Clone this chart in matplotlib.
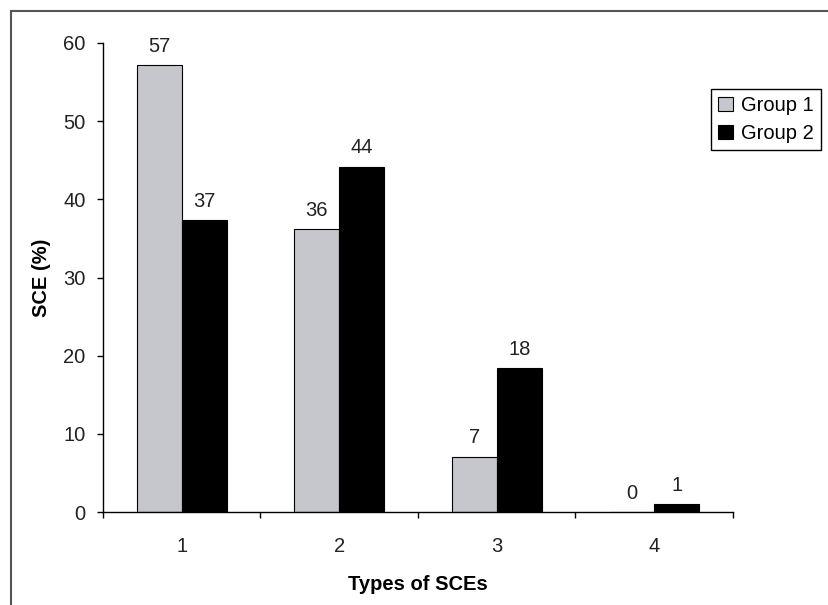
import matplotlib.pyplot as plt
from matplotlib.lines import Line2D
import numpy as np

plt.rcParams['font.family'] = ['Liberation Sans', 'DejaVu Sans']
plt.rcParams['font.size'] = 14.5

# data
types = ['1', '2', '3', '4']
group1 = [57.2, 36.2, 7.1, 0.0]
group2 = [37.3, 44.2, 18.4, 1.0]
series_names = ['Group 1', 'Group 2']

fig = plt.figure(figsize=(8.29, 6.05), dpi=100)
fig.patch.set_facecolor('white')
ax = fig.add_axes([103 / 829, 1 - 512 / 605, 630 / 829, 469 / 605])

x = np.arange(1, len(types) + 1)
w = 45 / 157.5
b1 = ax.bar(x - w / 2, group1, w, color='#c5c7cc', edgecolor='black', linewidth=0.8, label=series_names[0])
b2 = ax.bar(x + w / 2, group2, w, color='black', edgecolor='black', linewidth=0.8, label=series_names[1])

for bars, vals in ((b1, group1), (b2, group2)):
    for r, v in zip(bars, vals):
        ax.annotate('%d' % round(v), (r.get_x() + r.get_width() / 2, v),
                    xytext=(0, 9.5), textcoords='offset points',
                    ha='center', va='baseline', color='#222222')

ax.set_xlim(0.5, len(types) + 0.5)
ax.set_ylim(0, 60)
ax.set_yticks(range(0, 61, 10))
ax.set_xticks(x)
ax.set_xticklabels(types)
ax.set_xticks(np.arange(0.5, len(types) + 1, 1), minor=True)
ax.tick_params(axis='x', which='major', length=0, pad=18, colors='#222222')
ax.tick_params(axis='x', which='minor', length=4.5, width=1, direction='out', color='black')
ax.tick_params(axis='y', length=4.5, width=1, direction='out', pad=8, colors='#222222')
ax.tick_params(axis='y', color='black')

for s in ('top', 'right'):
    ax.spines[s].set_visible(False)
for s in ('left', 'bottom'):
    ax.spines[s].set_linewidth(1)
    ax.spines[s].set_color('black')

ax.set_xlabel('Types of SCEs', fontweight='bold', labelpad=14)
ax.set_ylabel('SCE (%)', fontweight='bold', labelpad=9)

leg = fig.legend(loc='upper left', bbox_to_anchor=(711 / 829, 1 - 89 / 605),
                 fancybox=False, shadow=False, framealpha=1, edgecolor='black',
                 handlelength=0.75, handleheight=0.75, handletextpad=0.4,
                 borderpad=0.35, labelspacing=0.45, borderaxespad=0)
leg.get_frame().set_linewidth(1)

# outer frame (left and top edges only, as in the screenshot)
fig.add_artist(Line2D([11 / 829, 11 / 829], [0, 1 - 11 / 605], transform=fig.transFigure, color='#555555', lw=1.5))
fig.add_artist(Line2D([11 / 829, 1], [1 - 11 / 605, 1 - 11 / 605], transform=fig.transFigure, color='#555555', lw=1.5))

fig.savefig('out.png', dpi=100)
